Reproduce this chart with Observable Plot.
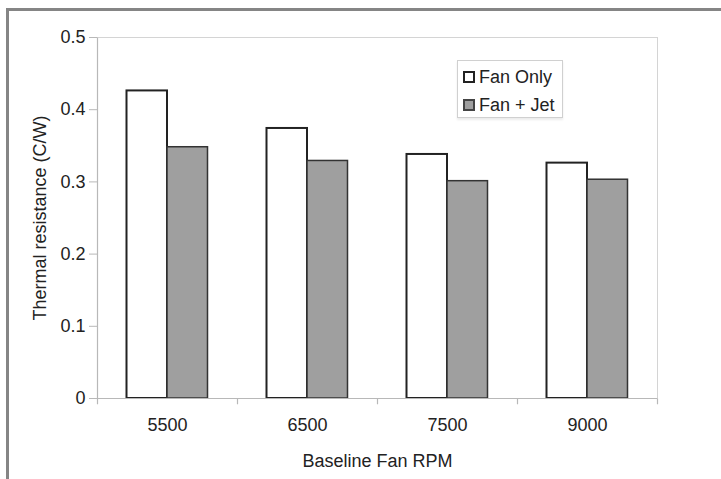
<!DOCTYPE html>
<html>
<head>
<meta charset="utf-8">
<script src="https://cdn.jsdelivr.net/npm/d3@7"></script>
<script src="https://cdn.jsdelivr.net/npm/@observablehq/plot@0.6"></script>
<style>
  html, body { margin: 0; padding: 0; background: #fff; }
  #wrap { position: relative; width: 721px; height: 479px; overflow: hidden; font-family: "Liberation Sans", Arial, sans-serif; }
  #frame { position: absolute; left: 6px; top: 8px; width: 730px; height: 490px; border-top: 3px solid #858585; border-left: 3px solid #858585; pointer-events: none; }
  #chart { position: absolute; left: 0; top: 0; }
  #legend { position: absolute; left: 457px; top: 60px; width: 104px; height: 56px; border: 1px solid #d0d0d0; background: #fff; box-shadow: 0 2px 2px #ececec; font-size: 18px; color: #222; }
  .item { position: absolute; left: 5px; display: flex; align-items: center; line-height: 20px; }
  .sw { width: 8px; height: 8px; border: 2px solid #222; margin-right: 4px; }
  #chart svg text { font-size: 18px; }
</style>
</head>
<body>
<div id="wrap">
  <div id="chart"></div>
  <div id="frame"></div>
  <div id="legend"></div>
</div>
<script>
const categories = ["5500", "6500", "7500", "9000"];
const seriesNames = ["Fan Only", "Fan + Jet"];
const fanOnly = [0.426, 0.374, 0.338, 0.326];
const fanJet = [0.348, 0.329, 0.301, 0.303];
const yTicks = [0, 0.1, 0.2, 0.3, 0.4, 0.5];
const colors = {"Fan Only": "#ffffff", "Fan + Jet": "#9f9f9f"};

const rows = [];
categories.forEach((c, i) => {
  rows.push({rpm: c, series: seriesNames[0], value: fanOnly[i]});
  rows.push({rpm: c, series: seriesNames[1], value: fanJet[i]});
});

const W = 721, H = 479;
const mL = 97, mR = 64, mT = 37, mB = 81;
const step = (W - mL - mR) / categories.length; // 140
const barW = 40.5;
const outer = (step - 2 * barW) / 2;
const axisColor = "#b8b8b8";

const plot = Plot.plot({
  width: W,
  height: H,
  marginLeft: mL,
  marginRight: mR,
  marginTop: mT,
  marginBottom: mB,
  style: {fontFamily: "Liberation Sans, Arial, sans-serif", fontSize: "18px", color: "#222", background: "transparent"},
  x: {domain: categories, padding: 0},
  y: {domain: [0, 0.5]},
  marks: [
    Plot.frame({stroke: "#d4d4d4", strokeWidth: 1}),
    Plot.barY(rows.filter(d => d.series === seriesNames[0]), {
      x: "rpm", y: "value", fill: colors["Fan Only"], stroke: "#222", strokeWidth: 2,
      insetLeft: outer, insetRight: step - outer - barW
    }),
    Plot.barY(rows.filter(d => d.series === seriesNames[1]), {
      x: "rpm", y: "value", fill: colors["Fan + Jet"], stroke: "#333", strokeWidth: 1.5,
      insetLeft: outer + barW, insetRight: outer
    }),
    Plot.ruleY([0], {stroke: axisColor, strokeWidth: 1.2}),
    Plot.link([categories[0]], {x1: d => d, x2: d => d, y1: 0, y2: 0.5, dx: -step / 2, stroke: axisColor, strokeWidth: 1.2}),
    // boundary ticks on x axis (band edges)
    Plot.link(categories, {x1: d => d, x2: d => d, y1: 0, y2: -0.008, dx: -step / 2, stroke: axisColor, strokeWidth: 1.2}),
    Plot.link([categories[categories.length - 1]], {x1: d => d, x2: d => d, y1: 0, y2: -0.008, dx: step / 2, stroke: axisColor, strokeWidth: 1.2}),
    Plot.axisY({
      ticks: yTicks, tickSize: 8, tickPadding: 4, stroke: axisColor, fontSize: 18,
      tickFormat: d => d === 0 ? "0" : d.toFixed(1),
      label: "Thermal resistance (C/W)", labelAnchor: "center", labelOffset: 64, labelArrow: "none"
    }),
    Plot.axisX({
      tickSize: 0, tickPadding: 20, fontSize: 18,
      label: "Baseline Fan RPM", labelAnchor: "center", labelOffset: 68, labelArrow: "none"
    })
  ]
});
document.getElementById("chart").appendChild(plot);

// Legend
const lg = document.getElementById("legend");
seriesNames.forEach((s, i) => {
  const it = document.createElement("div");
  it.className = "item";
  it.style.top = (i === 0 ? 6 : 34) + "px";
  const sw = document.createElement("div");
  sw.className = "sw";
  sw.style.background = colors[s];
  if (i === 1) sw.style.borderColor = "#444";
  it.appendChild(sw);
  const t = document.createElement("span");
  t.textContent = s;
  it.appendChild(t);
  lg.appendChild(it);
});
</script>
</body>
</html>
